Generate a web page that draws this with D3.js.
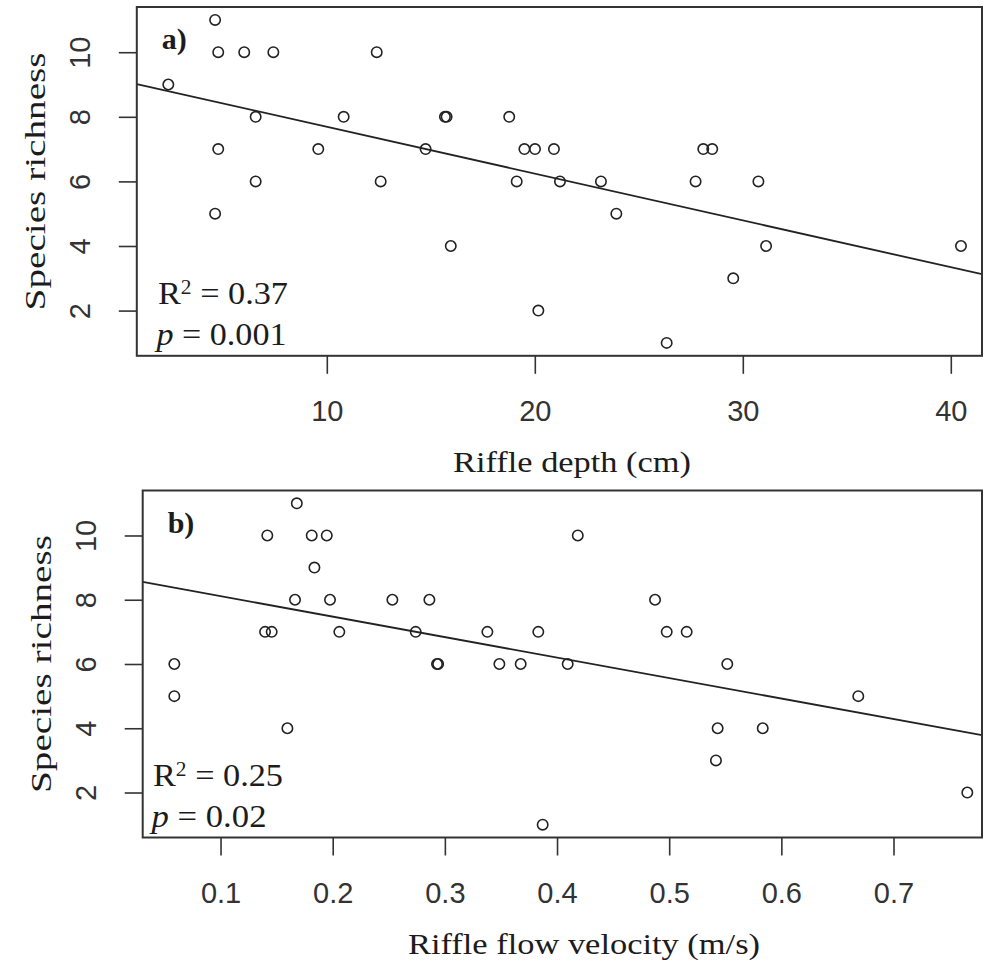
<!DOCTYPE html>
<html>
<head>
<meta charset="utf-8">
<script src="https://cdn.jsdelivr.net/npm/d3@7"></script>
<style>
  html, body { margin: 0; padding: 0; background: #fff; }
  svg { display: block; }
</style>
</head>
<body>
<svg id="chart" width="985" height="968"></svg>
<script>
// ---------- data ----------
const richness = [11, 10, 10, 10, 10, 9, 8, 8, 8, 8, 8, 7, 7, 7, 7, 7, 7, 7, 7,
                  6, 6, 6, 6, 6, 6, 6, 5, 5, 4, 4, 4, 3, 2, 1];
const depth = [4.63, 4.78, 6.03, 7.43, 12.40, 2.38, 6.58, 10.81, 15.68, 15.76, 18.77,
               4.78, 9.59, 14.75, 19.50, 20.01, 20.92, 28.10, 28.53,
               6.58, 12.59, 19.13, 21.21, 23.18, 27.73, 30.75,
               4.63, 23.92, 15.96, 31.12, 40.49, 29.54, 20.17, 26.34];
const velocity = [0.168, 0.1417, 0.1813, 0.1947, 0.4185, 0.1837, 0.1664, 0.1976, 0.2532, 0.2862, 0.4874,
                  0.1397, 0.1456, 0.2059, 0.274, 0.3379, 0.3833, 0.4978, 0.5156,
                  0.0588, 0.2930, 0.2940, 0.3486, 0.3676, 0.4095, 0.5518,
                  0.0588, 0.6686, 0.1596, 0.5432, 0.5834, 0.5417, 0.7658, 0.3872];
const yTicks = [2, 4, 6, 8, 10];
const depthTicks = [10, 20, 30, 40];
const velocityTicks = [0.1, 0.2, 0.3, 0.4, 0.5, 0.6, 0.7];
const panelLabels = ["a)", "b)"];
const xTitles = ["Riffle depth (cm)", "Riffle flow velocity (m/s)"];
const yTitle = "Species richness";
const r2Values = ["0.37", "0.25"];
const pValues = ["0.001", "0.02"];

// ---------- helpers ----------
const svg = d3.select("#chart");
svg.append("rect").attr("width", 985).attr("height", 968).attr("fill", "#fff");

const SERIF = "'Liberation Serif', 'Times New Roman', serif";
const SANS = "'Liberation Sans', Arial, sans-serif";
const INK = "#1c1c1c";

function ols(xs, ys) {
  const n = xs.length;
  const mx = d3.mean(xs), my = d3.mean(ys);
  let sxy = 0, sxx = 0;
  for (let i = 0; i < n; i++) { sxy += (xs[i] - mx) * (ys[i] - my); sxx += (xs[i] - mx) ** 2; }
  const b = sxy / sxx;
  return { a: my - b * mx, b };
}

function panel(cfg) {
  const { xs, ys, xDomain, xRange, yRange, xTicks, fmt, idx } = cfg;
  const x = d3.scaleLinear().domain(xDomain).range(xRange);
  const y = d3.scaleLinear().domain([0.6, 11.4]).range(yRange);
  const g = svg.append("g");
  const [L, R] = xRange, [B, T] = yRange;

  const clipId = "clip" + idx;
  svg.append("clipPath").attr("id", clipId)
    .append("rect").attr("x", L).attr("y", T).attr("width", R - L).attr("height", B - T);

  // regression line
  const fit = ols(xs, ys);
  g.append("line")
    .attr("clip-path", `url(#${clipId})`)
    .attr("x1", x(xDomain[0])).attr("y1", y(fit.a + fit.b * xDomain[0]))
    .attr("x2", x(xDomain[1])).attr("y2", y(fit.a + fit.b * xDomain[1]))
    .attr("stroke", "#222").attr("stroke-width", 1.8);

  // points
  g.selectAll("circle.pt").data(xs.map((v, i) => [v, ys[i]])).join("circle")
    .attr("class", "pt")
    .attr("cx", d => x(d[0])).attr("cy", d => y(d[1])).attr("r", 5.2)
    .attr("fill", "none").attr("stroke", "#222").attr("stroke-width", 1.6);

  // x axis
  const xa = g.append("g").attr("transform", `translate(0,${B})`)
    .call(d3.axisBottom(x).tickValues(xTicks).tickFormat(fmt).tickSize(18).tickPadding(27));
  xa.select(".domain").remove();
  xa.selectAll(".tick line").attr("stroke", "#333").attr("stroke-width", 1.6);
  xa.selectAll(".tick text").attr("font-family", SANS).attr("font-size", 29).attr("fill", "#333");

  // y axis
  const ya = g.append("g").attr("transform", `translate(${L},0)`)
    .call(d3.axisLeft(y).tickValues(yTicks).tickSize(18));
  ya.select(".domain").remove();
  ya.selectAll(".tick line").attr("stroke", "#333").attr("stroke-width", 1.6);
  ya.selectAll(".tick text")
    .attr("x", null).attr("dy", null)
    .attr("transform", "translate(-47,0) rotate(-90)")
    .attr("text-anchor", "middle")
    .attr("font-family", SANS).attr("font-size", 29).attr("fill", "#333");

  // box
  g.append("rect").attr("x", L).attr("y", T).attr("width", R - L).attr("height", B - T)
    .attr("fill", "none").attr("stroke", "#333").attr("stroke-width", 2);

  // panel label
  g.append("text").attr("x", L + 25).attr("y", T + 42)
    .attr("font-family", SERIF).attr("font-weight", "bold").attr("font-size", 30)
    .attr("fill", INK).text(panelLabels[idx]);

  // R2 and p
  const r2 = g.append("text").attr("x", cfg.statX).attr("y", B - 52)
    .attr("font-family", SERIF).attr("font-size", 32).attr("fill", INK)
    .attr("textLength", 130).attr("lengthAdjust", "spacingAndGlyphs");
  r2.append("tspan").text("R");
  r2.append("tspan").attr("dy", -10).attr("font-size", 20).text("2");
  r2.append("tspan").attr("dy", 10).text(" = " + r2Values[idx]);

  const p = g.append("text").attr("x", cfg.statX - 1.5).attr("y", B - 11)
    .attr("font-family", SERIF).attr("font-size", 32).attr("fill", INK)
    .attr("textLength", cfg.pLen).attr("lengthAdjust", "spacingAndGlyphs");
  p.append("tspan").attr("font-style", "italic").text("p");
  p.append("tspan").text(" = " + pValues[idx]);

  // x title
  g.append("text").attr("x", cfg.xTitleX).attr("y", B + 116)
    .attr("text-anchor", "middle")
    .attr("font-family", SERIF).attr("font-size", 30).attr("fill", INK)
    .attr("textLength", cfg.xTitleLen).attr("lengthAdjust", "spacingAndGlyphs")
    .text(xTitles[idx]);

  // y title
  g.append("text").attr("transform", `translate(${L - 92},${(T + B) / 2}) rotate(-90)`)
    .attr("text-anchor", "middle")
    .attr("font-family", SERIF).attr("font-size", 30).attr("fill", INK)
    .attr("textLength", 258).attr("lengthAdjust", "spacingAndGlyphs")
    .text(yTitle);
}

panel({
  idx: 0, xs: depth, ys: richness,
  xDomain: [0.865, 41.5], xRange: [136.8, 982], yRange: [355.8, 7],
  xTicks: depthTicks, fmt: d3.format("d"),
  statX: 158, pLen: 130, xTitleX: 572, xTitleLen: 238
});
panel({
  idx: 1, xs: velocity, ys: richness,
  xDomain: [0.0306, 0.7789], xRange: [142.7, 982], yRange: [837.5, 490.5],
  xTicks: velocityTicks, fmt: d3.format(".1f"),
  statX: 153, pLen: 115, xTitleX: 584, xTitleLen: 352
});
</script>
</body>
</html>
